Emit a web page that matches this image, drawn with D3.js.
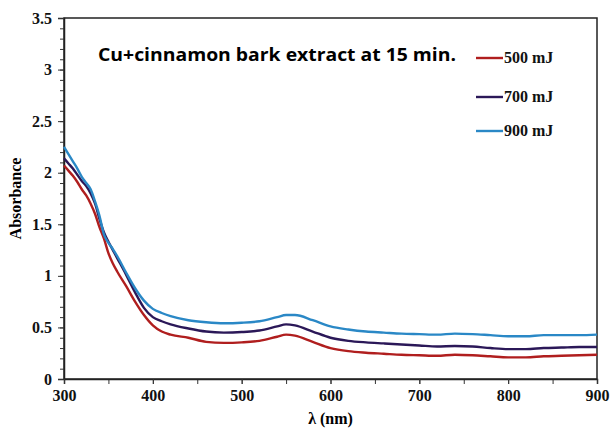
<!DOCTYPE html>
<html lang="en">
<head>
    <meta charset="UTF-8">
    <title>Absorbance spectra</title>
    <script src="https://d3js.org/d3.v7.min.js"></script>
    <style>
        body { margin: 0; padding: 0; background: #fff; overflow: hidden; }
        .tick text { font-family: "Liberation Serif", serif; font-weight: bold; font-size: 16px; fill: #111; }
    </style>
</head>
<body>
    <div id="chart"></div>
    <script>
        // wavelengths (nm)
        const wavelengths = [300, 305, 310, 315, 320, 325, 330, 335, 340, 345, 350, 355, 360, 370, 380, 390, 400, 410, 420, 440, 460, 480, 500, 520, 540, 550, 560, 580, 600, 620, 640, 660, 680, 700, 720, 740, 760, 780, 800, 820, 840, 860, 880, 900];

        // absorbance per energy
        const abs500 = [2.07, 2.02, 1.97, 1.91, 1.84, 1.78, 1.70, 1.60, 1.47, 1.36, 1.22, 1.12, 1.04, 0.90, 0.75, 0.62, 0.52, 0.46, 0.43, 0.40, 0.36, 0.35, 0.355, 0.37, 0.41, 0.43, 0.42, 0.36, 0.30, 0.27, 0.255, 0.245, 0.235, 0.23, 0.225, 0.235, 0.23, 0.22, 0.21, 0.21, 0.22, 0.225, 0.23, 0.235];
        const abs700 = [2.14, 2.09, 2.04, 1.98, 1.92, 1.87, 1.80, 1.70, 1.55, 1.42, 1.33, 1.25, 1.17, 1.01, 0.84, 0.69, 0.60, 0.56, 0.53, 0.49, 0.46, 0.45, 0.455, 0.47, 0.51, 0.53, 0.52, 0.46, 0.40, 0.37, 0.355, 0.345, 0.335, 0.325, 0.315, 0.32, 0.315, 0.30, 0.29, 0.29, 0.30, 0.305, 0.31, 0.31];
        const abs900 = [2.25, 2.18, 2.11, 2.04, 1.96, 1.90, 1.84, 1.72, 1.58, 1.40, 1.32, 1.26, 1.19, 1.03, 0.88, 0.76, 0.68, 0.64, 0.61, 0.57, 0.55, 0.54, 0.545, 0.56, 0.60, 0.62, 0.62, 0.57, 0.51, 0.48, 0.46, 0.45, 0.44, 0.435, 0.43, 0.44, 0.435, 0.425, 0.415, 0.415, 0.425, 0.425, 0.425, 0.43];

        const seriesNames = ["500 mJ", "700 mJ", "900 mJ"];
        const seriesColors = ["#b01e1e", "#2b1858", "#2a88c6"];
        const xTicks = [300, 400, 500, 600, 700, 800, 900];
        const yTicks = [0, 0.5, 1, 1.5, 2, 2.5, 3, 3.5];

        const width = 614, height = 430;
        const margin = {top: 18, right: 17, bottom: 51, left: 64};

        const svg = d3.select("#chart").append("svg")
            .attr("width", width)
            .attr("height", height);

        const x = d3.scaleLinear().domain([300, 900]).range([margin.left, width - margin.right]);
        const y = d3.scaleLinear().domain([0, 3.5]).range([height - margin.bottom, margin.top]);

        // frame
        svg.append("rect")
            .attr("x", margin.left).attr("y", margin.top)
            .attr("width", width - margin.left - margin.right)
            .attr("height", height - margin.top - margin.bottom)
            .attr("fill", "none").attr("stroke", "#222").attr("stroke-width", 1.5);

        // minor ticks
        const yMinor = svg.append("g")
            .attr("transform", `translate(${margin.left},0)`)
            .call(d3.axisLeft(y).tickValues(d3.range(0, 3.51, 0.1)).tickSize(4).tickFormat(""));
        yMinor.select(".domain").remove();
        const xMinor = svg.append("g")
            .attr("transform", `translate(0,${height - margin.bottom})`)
            .call(d3.axisBottom(x).tickValues(d3.range(300, 901, 50)).tickSize(5).tickFormat(""));
        xMinor.select(".domain").remove();

        // axes
        const yAxis = svg.append("g")
            .attr("transform", `translate(${margin.left},0)`)
            .call(d3.axisLeft(y).tickValues(yTicks).tickSize(6).tickPadding(6).tickFormat(d => d));
        yAxis.select(".domain").attr("stroke", "#222").attr("stroke-width", 1.5);

        const xAxis = svg.append("g")
            .attr("transform", `translate(0,${height - margin.bottom})`)
            .call(d3.axisBottom(x).tickValues(xTicks).tickSize(5).tickPadding(6));
        xAxis.select(".domain").attr("stroke", "#222").attr("stroke-width", 1.5);

        svg.selectAll(".tick line").attr("stroke", "#333");

        // curves
        const allSeries = [abs500, abs700, abs900];
        const line = d3.line()
            .x((d, i) => x(wavelengths[i]))
            .y(d => y(d))
            .curve(d3.curveMonotoneX);

        allSeries.forEach((s, i) => {
            svg.append("path")
                .datum(s)
                .attr("fill", "none")
                .attr("stroke", seriesColors[i])
                .attr("stroke-width", 2.4)
                .attr("d", line);
        });

        // title
        svg.append("text")
            .attr("x", 98).attr("y", 61)
            .attr("font-family", "'Open Sans', sans-serif")
            .attr("font-weight", "bold")
            .attr("font-size", 18.5)
            .attr("textLength", 358)
            .attr("lengthAdjust", "spacingAndGlyphs")
            .attr("fill", "#000")
            .text("Cu+cinnamon bark extract at 15 min.");

        // legend
        const legendY = [58, 97, 131];
        seriesNames.forEach((name, i) => {
            svg.append("line")
                .attr("x1", 476).attr("x2", 503)
                .attr("y1", legendY[i]).attr("y2", legendY[i])
                .attr("stroke", seriesColors[i]).attr("stroke-width", 2.4);
            svg.append("text")
                .attr("x", 504).attr("y", legendY[i] + 5)
                .attr("font-family", "'Liberation Serif', serif")
                .attr("font-weight", "bold")
                .attr("font-size", 16)
                .attr("fill", "#111")
                .text(name);
        });

        // axis labels
        svg.append("text")
            .attr("transform", `translate(21,${(margin.top + height - margin.bottom) / 2}) rotate(-90)`)
            .attr("text-anchor", "middle")
            .attr("font-family", "'Liberation Serif', serif")
            .attr("font-weight", "bold")
            .attr("font-size", 16)
            .text("Absorbance");

        svg.append("text")
            .attr("x", (margin.left + width - margin.right) / 2)
            .attr("y", 424)
            .attr("text-anchor", "middle")
            .attr("font-family", "'Liberation Serif', serif")
            .attr("font-weight", "bold")
            .attr("font-size", 16)
            .text("λ (nm)");
    </script>
</body>
</html>
